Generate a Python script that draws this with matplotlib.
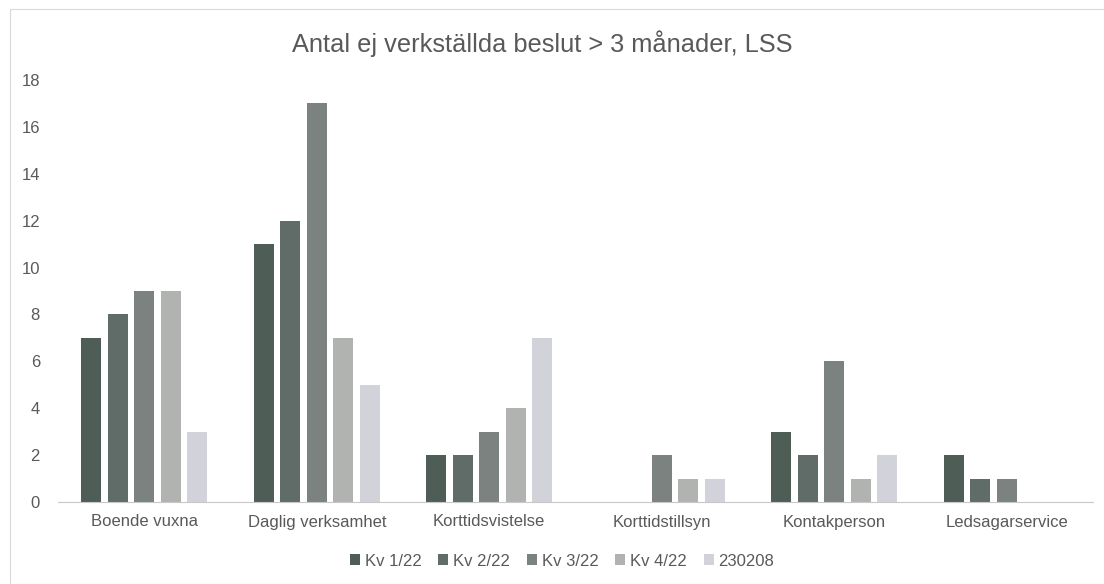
import matplotlib
matplotlib.use("Agg")
import matplotlib.pyplot as plt
import numpy as np
from matplotlib.patches import Rectangle

categories = ["Boende vuxna", "Daglig verksamhet", "Korttidsvistelse",
              "Korttidstillsyn", "Kontakperson", "Ledsagarservice"]
series_names = ["Kv 1/22", "Kv 2/22", "Kv 3/22", "Kv 4/22", "230208"]
kv1 = [7, 11, 2, 0, 3, 2]
kv2 = [8, 12, 2, 0, 2, 1]
kv3 = [9, 17, 3, 2, 6, 1]
kv4 = [9, 7, 4, 1, 1, 0]
d230208 = [3, 5, 7, 1, 2, 0]
series_values = [kv1, kv2, kv3, kv4, d230208]
colors = ["#4f5d57", "#606c67", "#7b827f", "#b1b3b1", "#d2d2da"]
yticks = list(range(0, 19, 2))

plt.rcParams['font.family'] = ['Liberation Sans', 'DejaVu Sans']
fig = plt.figure(figsize=(11.04, 5.84), dpi=100)
ax = fig.add_axes([58/1104, 1-502/584, (1093-58)/1104, (502-80)/584])

x = np.arange(len(categories))
pitch = 0.154
width = 0.115
for i, (name, vals, c) in enumerate(zip(series_names, series_values, colors)):
    ax.bar(x + (i - 2) * pitch, vals, width=width, color=c, label=name)

ax.set_xlim(-0.5, len(categories) - 0.5)
ax.set_ylim(0, 18)
ax.set_yticks(yticks)
ax.set_xticks(x)
ax.set_xticklabels(categories)
ax.tick_params(axis='both', length=0, labelsize=12, colors="#595959")
ax.tick_params(axis='y', pad=13)
ax.tick_params(axis='x', pad=9)
for s in ["top", "right", "left"]:
    ax.spines[s].set_visible(False)
ax.spines["bottom"].set_color("#c8c8c8")
ax.spines["bottom"].set_linewidth(0.8)

fig.text(542/1104, 1-44/584, "Antal ej verkställda beslut > 3 månader, LSS",
         ha="center", va="center", fontsize=18.3, color="#595959")

leg = ax.legend(loc="center", bbox_to_anchor=((562-58)/1035, -(561-502)/422),
                ncol=5, frameon=False, fontsize=12, handlelength=0.6,
                handleheight=0.6, handletextpad=0.3, columnspacing=1.0)
for t in leg.get_texts():
    t.set_color("#595959")

fig.patches.append(Rectangle((10/1104, 0), 1.0, 1-9/584, transform=fig.transFigure,
                             fill=False, edgecolor="#d9d9d9", linewidth=0.8))

fig.savefig("out.png", dpi=100)
